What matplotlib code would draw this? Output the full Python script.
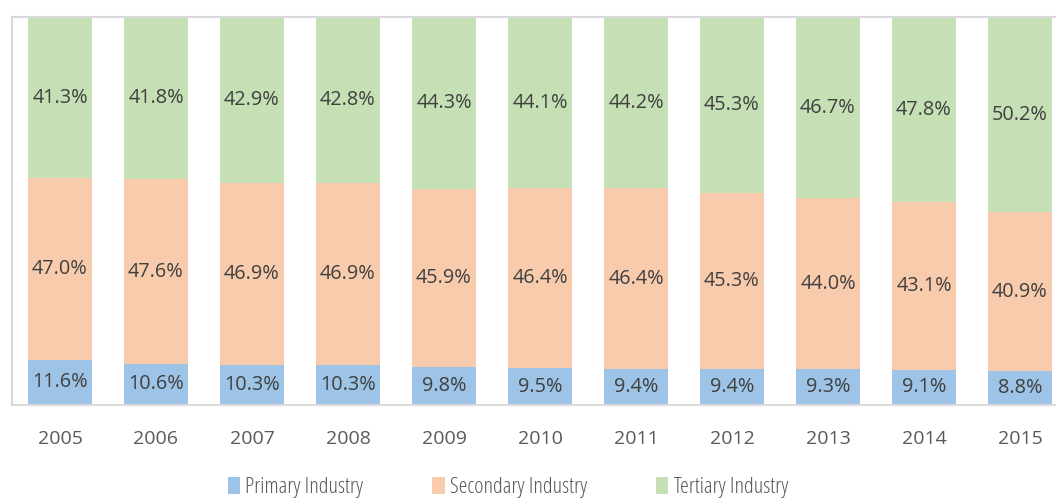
import matplotlib.pyplot as plt
import numpy as np

years = ['2005', '2006', '2007', '2008', '2009', '2010', '2011', '2012', '2013', '2014', '2015']
primary = [11.6, 10.6, 10.3, 10.3, 9.8, 9.5, 9.4, 9.4, 9.3, 9.1, 8.8]
secondary = [47.0, 47.6, 46.9, 46.9, 45.9, 46.4, 46.4, 45.3, 44.0, 43.1, 40.9]
tertiary = [41.3, 41.8, 42.9, 42.8, 44.3, 44.1, 44.2, 45.3, 46.7, 47.8, 50.2]

plt.rcParams['font.family'] = ['Open Sans', 'DejaVu Sans']

fig = plt.figure(figsize=(10.56, 5.01), dpi=100)
ax = fig.add_axes([12 / 1056, 96 / 501, 1056 / 1056, 388 / 501])

x = np.arange(len(years))
w = 2 / 3
series = [
    ('Primary Industry', primary, '#9dc3e6'),
    ('Secondary Industry', secondary, '#f8cbad'),
    ('Tertiary Industry', tertiary, '#c5e0b4'),
]
bottom = np.zeros(len(years))
for name, vals, col in series:
    vals = np.array(vals)
    ax.bar(x, vals, w, bottom=bottom, color=col, label=name)
    for xi, b, v in zip(x, bottom, vals):
        ax.text(xi, b + v / 2, f'{v:.1f}%', ha='center', va='center',
                fontsize=14.3, color='#404040')
    bottom += vals

ax.set_xlim(-0.5, len(years) - 0.5)
ax.set_ylim(0, 100)
ax.set_yticks([])
ax.set_xticks(x)
ax.set_xticklabels(years, fontsize=14, color='#595959')
ax.tick_params(axis='x', length=0, pad=18)
for s in ax.spines.values():
    s.set_color('#d9d9d9')
    s.set_linewidth(1.5)

leg = fig.legend(loc='center', bbox_to_anchor=(0.481, 0.027), ncol=3, frameon=False,
                 fontsize=16, handlelength=0.55, handleheight=0.85, handletextpad=0.25,
                 columnspacing=3.1)
for t in leg.get_texts():
    t.set_color('#595959')
    t.set_fontstretch('condensed')

fig.savefig('out.png', dpi=100)
